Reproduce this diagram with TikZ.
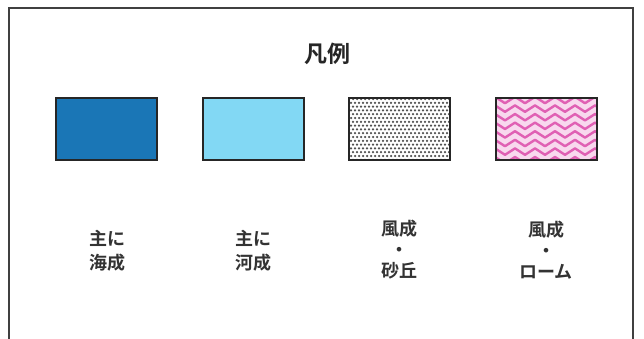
\documentclass[tikz,border=0pt]{standalone}
\usepackage{fontspec}
\setmainfont{Noto Sans CJK JP}[BoldFont={Noto Sans CJK JP Bold}]
\definecolor{darkblue}{HTML}{1A76B6}
\definecolor{lightblue}{HTML}{82D8F4}
\definecolor{wavepink}{HTML}{E060B4}
\definecolor{wavebg}{HTML}{F8D8EE}
\definecolor{dotgray}{HTML}{505050}
\begin{document}
\begin{tikzpicture}[x=1pt,y=-1pt,
  legendbox/.style={draw=black!85,line width=2pt},
  lab/.style={font=\bfseries\fontsize{18}{22}\selectfont,align=center,text=black!80,inner sep=0pt}]
\useasboundingbox (0,0) rectangle (644,338);
\fill[white] (0,0) rectangle (644,338);
% frame
\draw[black!75,line width=1.6pt] (9,345) -- (9,8) -- (633,8) -- (633,345);
% title
\node[font=\bfseries\fontsize{23}{25}\selectfont,text=black!85] (title) at (327,54) {凡例};
% box 1
\node[legendbox,fill=darkblue,minimum width=101pt,minimum height=62pt,inner sep=0pt] (b1) at (106,129) {};
% box 2
\node[legendbox,fill=lightblue,minimum width=101pt,minimum height=62pt,inner sep=0pt] (b2) at (253,129) {};
% box 3 dots
\begin{scope}
\clip (349,98) rectangle (450,160);
\foreach \r in {0,...,16}{
  \foreach \c in {0,...,26}{
    \pgfmathsetmacro{\xx}{349+\c*4+mod(\r,2)*2}
    \pgfmathsetmacro{\yy}{99+\r*3.8}
    \fill[dotgray] (\xx,\yy) circle (1.25pt);
  }
}
\end{scope}
\node[legendbox,minimum width=101pt,minimum height=62pt,inner sep=0pt] (b3) at (399.5,129) {};
% box 4 waves
\begin{scope}
\clip (496,98) rectangle (597,160);
\fill[wavebg] (496,98) rectangle (597,160);
\foreach \r in {0,...,7}{
  \pgfmathsetmacro{\yy}{100+\r*8.6}
  \draw[wavepink,line width=2.4pt,line join=round] (490,\yy)
    \foreach \k in {0,...,6}{ -- ++(5,-3.2) -- ++(5,3.2) -- ++(5,3.2) -- ++(5,-3.2)};
}
\end{scope}
\node[legendbox,minimum width=101pt,minimum height=62pt,inner sep=0pt] (b4) at (546.5,129) {};
% labels
\node[lab] (l1) at (107,251) {主に\\[2pt]海成};
\node[lab] (l2) at (253,251) {主に\\[2pt]河成};
\node[lab] (l3) at (399,250) {風成\\[-1pt]・\\[-1pt]砂丘};
\node[lab] (l4) at (546,250) {風成\\[-1pt]・\\[-1pt]ローム};
\end{tikzpicture}
\end{document}
